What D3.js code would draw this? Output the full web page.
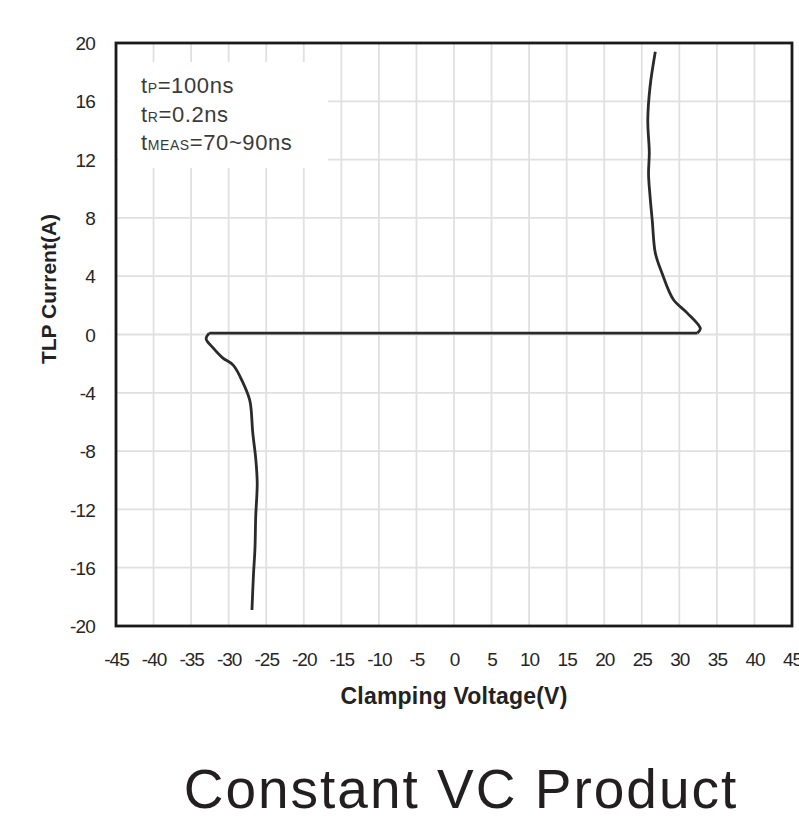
<!DOCTYPE html>
<html><head><meta charset="utf-8">
<script src="https://cdn.jsdelivr.net/npm/d3@7"></script>
<style>body{margin:0;background:#fff;} svg{display:block;}</style>
</head><body>
<svg id="chart" width="799" height="824"></svg>
<script>
const xTicks = [-45,-40,-35,-30,-25,-20,-15,-10,-5,0,5,10,15,20,25,30,35,40,45];
const yTicks = [-20,-16,-12,-8,-4,0,4,8,12,16,20];
const voltage = [-26.9,-26.7,-26.5,-26.4,-26.2,-26.4,-26.8,-27.0,-27.2,-28.1,-29.4,-30.8,-32.1,-33.0,-32.6,
                 32.4,32.8,31.0,29.2,27.7,26.8,26.4,26.1,25.9,26.0,25.8,26.1,26.8];
const current = [-18.9,-16.5,-14.7,-12.5,-10.2,-8.5,-6.7,-5.2,-4.5,-3.3,-2.1,-1.6,-0.9,-0.3,0.1,
                 0.1,0.4,1.5,2.4,4.2,5.6,7.8,9.5,11.0,12.5,14.7,17.0,19.4];
const legendLines = [["t","P","=100ns"],["t","R","=0.2ns"],["t","MEAS","=70~90ns"]];
const xTitle = "Clamping Voltage(V)";
const yTitle = "TLP Current(A)";
const title = "Constant VC Product";

const svg = d3.select("#chart");
const L=116, R=792, T=43, B=626;
const x = d3.scaleLinear().domain([-45,45]).range([L,R]);
const y = d3.scaleLinear().domain([-20,20]).range([B,T]);
const font = "'Liberation Sans', Arial, sans-serif";

// grid
const g = svg.append("g");
g.selectAll("line.vx").data(xTicks).join("line")
  .attr("x1",d=>x(d)).attr("x2",d=>x(d)).attr("y1",T).attr("y2",B)
  .attr("stroke","#e0e0e0").attr("stroke-width",1.8);
g.selectAll("line.hy").data(yTicks).join("line")
  .attr("y1",d=>y(d)).attr("y2",d=>y(d)).attr("x1",L).attr("x2",R)
  .attr("stroke","#e0e0e0").attr("stroke-width",1.8);

// legend box (covers grid)
svg.append("rect").attr("x",L+2).attr("y",62).attr("width",210).attr("height",106).attr("fill","#fff");
const lg = svg.append("g").attr("font-family",font).attr("fill","#3a3a3a");
legendLines.forEach((ln,i)=>{
  const t = lg.append("text").attr("x",141).attr("y",[93,122,150][i]).attr("font-size",22).attr("letter-spacing",0.6);
  t.append("tspan").text(ln[0]);
  t.append("tspan").attr("font-size",14).text(ln[1]);
  t.append("tspan").text(ln[2]);
});

// curve
const line = d3.line().x(d=>x(d[0])).y(d=>y(d[1])).curve(d3.curveCatmullRom.alpha(0.5));
const pts = voltage.map((v,i)=>[v,current[i]]);
const leftPts = pts.slice(0,15), rightPts = pts.slice(15);
const cs = "#2a2a2a";
svg.append("path").attr("d",line(leftPts)).attr("fill","none").attr("stroke",cs).attr("stroke-width",2.8);
svg.append("path").attr("d",line(rightPts)).attr("fill","none").attr("stroke",cs).attr("stroke-width",2.8);
svg.append("path").attr("d",d3.line().x(d=>x(d[0])).y(d=>y(d[1]))([leftPts[14],rightPts[0]]))
  .attr("fill","none").attr("stroke",cs).attr("stroke-width",2.8);

// frame
svg.append("rect").attr("x",L).attr("y",T).attr("width",R-L).attr("height",B-T)
  .attr("fill","none").attr("stroke","#1a1a1a").attr("stroke-width",2.8);

// axes
const xAxis = d3.axisBottom(x).tickValues(xTicks).tickSize(0).tickFormat(d=>String(d));
const ax = svg.append("g").attr("transform",`translate(0,${B})`).call(xAxis);
ax.select(".domain").remove();
ax.selectAll("text").attr("y",40).attr("dy",0).attr("font-family",font).attr("font-size",19).attr("letter-spacing",-1).attr("fill","#262626");
const yAxis = d3.axisLeft(y).tickValues(yTicks).tickSize(0).tickFormat(d=>String(d));
const ay = svg.append("g").attr("transform",`translate(${L},0)`).call(yAxis);
ay.select(".domain").remove();
ay.selectAll("text").attr("x",-21).attr("dy","0.35em").attr("font-family",font).attr("font-size",19).attr("letter-spacing",-0.8).attr("fill","#262626");

svg.append("text").attr("x",454).attr("y",704).attr("text-anchor","middle")
  .attr("font-family",font).attr("font-weight","bold").attr("font-size",23).attr("letter-spacing",0.2).attr("fill","#222").text(xTitle);
svg.append("text").attr("transform","translate(56,289) rotate(-90)").attr("text-anchor","middle")
  .attr("font-family",font).attr("font-weight","bold").attr("font-size",21).attr("letter-spacing",0).attr("fill","#222").text(yTitle);

svg.append("text").attr("x",461).attr("y",808).attr("text-anchor","middle")
  .attr("font-family",font).attr("font-size",55).attr("letter-spacing",2).attr("fill","#231f20").text(title);
</script>
</body></html>
